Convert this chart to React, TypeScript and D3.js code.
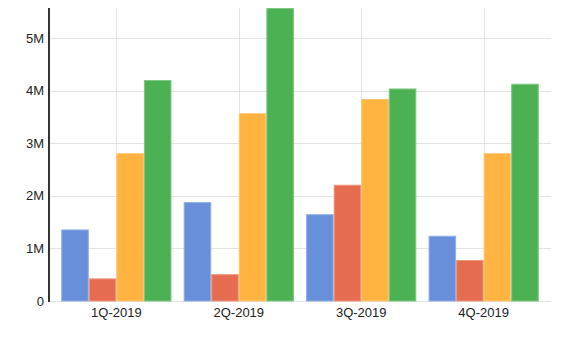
import React, { useEffect, useRef } from 'react';
import * as d3 from 'd3';

const categories = ['1Q-2019', '2Q-2019', '3Q-2019', '4Q-2019'];
const seriesNames = ['A', 'B', 'C', 'D'];
const seriesA = [1360000, 1880000, 1650000, 1240000];
const seriesB = [430000, 510000, 2210000, 780000];
const seriesC = [2810000, 3570000, 3840000, 2810000];
const seriesD = [4200000, 5570000, 4040000, 4130000];
const yTicks = [0, 1000000, 2000000, 3000000, 4000000, 5000000];
const colors = ['#6890da', '#e56c4f', '#ffb340', '#4cb152'];
const strokes = ['#8fadea', '#ee957f', '#ffc56e', '#7cc87f'];

export default function App() {
  const ref = useRef<SVGSVGElement | null>(null);

  useEffect(() => {
    if (!ref.current) return;
    document.body.style.margin = '0';
    const svg = d3.select(ref.current);
    svg.selectAll('*').remove();

    const W = 581, H = 339;
    const left = 49, right = 551, top = 8, bottom = 301;
    const series = [seriesA, seriesB, seriesC, seriesD];

    const x = d3.scaleBand<string>().domain(categories).range([left, right])
      .paddingInner(0.1).paddingOuter(0.1);
    const x1 = d3.scaleBand<string>().domain(seriesNames).range([0, x.bandwidth()]);
    const y = d3.scaleLinear().domain([0, 5570000]).range([bottom, top]);

    svg.attr('width', W).attr('height', H);

    // grid
    const grid = svg.append('g');
    grid.selectAll('line.h').data(yTicks).enter().append('line')
      .attr('x1', left).attr('x2', right)
      .attr('y1', d => Math.round(y(d)) + 0.5).attr('y2', d => Math.round(y(d)) + 0.5)
      .attr('stroke', '#e3e3e3');
    grid.selectAll('line.v').data(categories).enter().append('line')
      .attr('x1', d => Math.round(x(d)! + x.bandwidth() / 2) + 0.5)
      .attr('x2', d => Math.round(x(d)! + x.bandwidth() / 2) + 0.5)
      .attr('y1', top).attr('y2', bottom)
      .attr('stroke', '#e3e3e3');

    // bars
    const groups = svg.append('g').selectAll('g').data(categories).enter().append('g')
      .attr('transform', d => `translate(${x(d)},0)`);
    groups.selectAll('rect')
      .data((c, i) => series.map((s, k) => ({ key: seriesNames[k], v: s[i], k })))
      .enter().append('rect')
      .attr('x', d => x1(d.key)! + 0.5)
      .attr('width', x1.bandwidth() - 1)
      .attr('y', d => y(d.v) + 0.5)
      .attr('height', d => bottom - y(d.v) - 0.5)
      .attr('fill', d => colors[d.k])
      .attr('stroke', d => strokes[d.k])
      .attr('stroke-width', 1);

    // y axis
    const yAxis = svg.append('g')
      .attr('transform', `translate(${left},0)`)
      .call(d3.axisLeft(y).tickValues(yTicks).tickSize(0).tickPadding(5)
        .tickFormat(d => (+d === 0 ? '0' : `${+d / 1000000}M`)));
    yAxis.select('.domain').remove();
    yAxis.selectAll('text').attr('fill', '#222').style('font-size', '13px')
      .style('font-family', 'Arial, "Liberation Sans", sans-serif');
    svg.append('line').attr('x1', left).attr('x2', left).attr('y1', top).attr('y2', bottom + 1)
      .attr('stroke', '#333').attr('stroke-width', 2);

    // x axis
    const xAxis = svg.append('g')
      .attr('transform', `translate(0,${bottom})`)
      .call(d3.axisBottom(x).tickSize(0).tickPadding(7));
    xAxis.select('.domain').remove();
    xAxis.selectAll('text').attr('fill', '#222').style('font-size', '13px')
      .style('font-family', 'Arial, "Liberation Sans", sans-serif');
  }, []);

  return <svg ref={ref} style={{ display: 'block' }} />;
}
